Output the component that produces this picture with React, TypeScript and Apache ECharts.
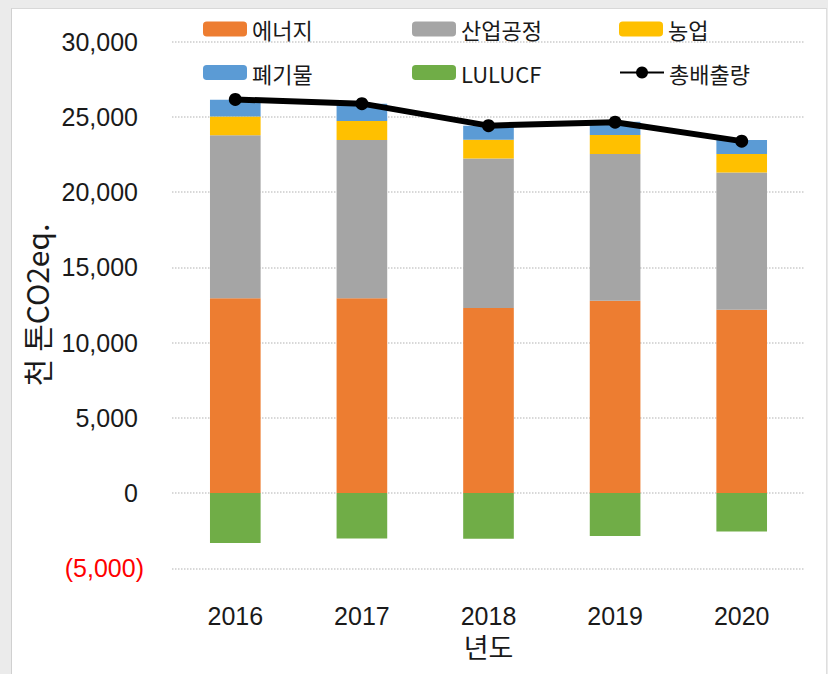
import React, { useEffect, useRef } from "react";
import * as echarts from "echarts";

const years = ["2016", "2017", "2018", "2019", "2020"];
const energy = [12950, 12950, 12300, 12770, 12170];
const industry = [10820, 10510, 9920, 9760, 9120];
const agriculture = [1240, 1260, 1260, 1260, 1240];
const waste = [1120, 1150, 930, 880, 920];
const lulucf = [-3320, -3020, -3030, -2860, -2550];
const total = [26150, 25870, 24410, 24640, 23380];

const seriesNames = ["에너지", "산업공정", "농업", "폐기물", "LULUCF", "총배출량"];
const colors = ["#ED7D31", "#A5A5A5", "#FFC000", "#5B9BD5", "#70AD47", "#000000"];

const NUM_FONT = "'Liberation Sans', Arial, sans-serif";
const KR_FONT = "'Noto Sans CJK KR', 'Noto Sans', sans-serif";

const fmt = (v: number) => Math.abs(v).toLocaleString("en-US");

export default function App() {
  const ref = useRef<HTMLDivElement>(null);
  useEffect(() => {
    const chart = echarts.init(ref.current!, null, { renderer: "svg" });
    const legendLefts = [191, 400, 607];
    const legendTops = [9, 52.5];
    const barData = [energy, industry, agriculture, waste, lulucf];
    chart.setOption({
      animation: false,
      backgroundColor: "#ffffff",
      grid: { left: 160, right: 21, top: 32.5, bottom: 105.7, containLabel: false },
      legend: seriesNames.map((n, i) => ({
        data: [n],
        left: legendLefts[i % 3],
        top: legendTops[Math.floor(i / 3)],
        itemWidth: 44,
        itemHeight: 15,
        padding: 0,
        textStyle: { fontSize: 22, fontFamily: KR_FONT, color: "#1a1a1a" },
      })),
      xAxis: {
        type: "category",
        data: years,
        axisLine: { show: false, onZero: false },
        axisTick: { show: false },
        axisLabel: { fontSize: 25, fontFamily: NUM_FONT, color: "#1a1a1a", margin: 35 },
        name: "년도",
        nameLocation: "middle",
        nameGap: 60,
        nameTextStyle: { fontSize: 27, fontFamily: KR_FONT, color: "#1a1a1a" },
      },
      yAxis: {
        type: "value",
        min: -5000,
        max: 30000,
        interval: 5000,
        axisLine: { show: false },
        axisTick: { show: false },
        splitLine: { lineStyle: { color: "#cccccc", type: "dotted", width: 1.5 } },
        axisLabel: {
          margin: 28,
          formatter: (v: number) => (v < 0 ? `{n|(${fmt(v)})}` : `{p|${fmt(v)}}`),
          rich: {
            p: { fontSize: 25, fontFamily: NUM_FONT, color: "#1a1a1a", padding: [0, 6, 0, 0] },
            n: { fontSize: 25, fontFamily: NUM_FONT, color: "#ff0000" },
          },
        },
        name: "천 톤CO2eq.",
        nameLocation: "middle",
        nameGap: 114,
        nameTextStyle: { fontSize: 30, fontFamily: KR_FONT, color: "#1a1a1a" },
      },
      series: [
        ...barData.map((d, i) => ({
          name: seriesNames[i],
          type: "bar",
          stack: "total",
          barWidth: "40%",
          data: d,
          itemStyle: { color: colors[i] },
          emphasis: { disabled: true },
        })),
        {
          name: seriesNames[5],
          type: "line",
          data: total,
          symbol: "circle",
          symbolSize: 13,
          itemStyle: { color: "#000000" },
          lineStyle: { color: "#000000", width: 6 },
          emphasis: { disabled: true },
          z: 5,
        },
      ],
    });
    return () => chart.dispose();
  }, []);
  return (
    <div style={{ position: "fixed", left: 0, top: 0, width: 828, height: 674, background: "#ebebeb" }}>
      <div
        style={{
          position: "absolute",
          left: 11,
          top: 8,
          width: 814,
          height: 665,
          background: "#ffffff",
          borderLeft: "1px solid #d0d0d0",
          borderTop: "1px solid #d8d8d8",
          borderRight: "1px solid #dedede",
        }}
      >
        <div ref={ref} style={{ width: 814, height: 665 }} />
      </div>
    </div>
  );
}
